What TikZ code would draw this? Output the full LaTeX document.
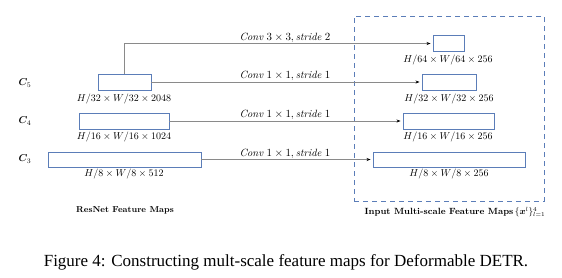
\documentclass[tikz,border=0pt]{standalone}
\usepackage{fontspec}
\usepackage{amsmath,bm}
\newfontfamily\capfont{Liberation Serif}
\usetikzlibrary{arrows.meta}
\definecolor{boxblue}{HTML}{5B7DB8}
\definecolor{lin}{HTML}{8A8A8A}
\begin{document}
\begin{tikzpicture}[x=1pt,y=-1pt,
  fmap/.style={draw=boxblue,line width=0.9pt,minimum height=16pt,inner sep=0pt},
  dimlab/.style={font=\fontsize{10}{11}\selectfont,inner sep=0pt},
  convlab/.style={font=\fontsize{10.5}{11}\selectfont,inner sep=0pt,anchor=base},
  clab/.style={font=\fontsize{10}{11}\selectfont,inner sep=0pt},
  conn/.style={draw=lin,line width=0.6pt,-{Stealth[length=4pt,width=3pt,color=black]},shorten >=2pt}]
\useasboundingbox (0,0) rectangle (562,277);
% ResNet maps
\node[fmap,minimum width=53pt,minimum height=16pt] (c5) at (124.5,82) {};
\node[fmap,minimum width=90pt,minimum height=16pt] (c4) at (124,121) {};
\node[fmap,minimum width=153pt,minimum height=15pt] (c3) at (124.5,159.5) {};
\node[dimlab] (c5d) at (124,98.5) {$H/32\times W/32\times 2048$};
\node[dimlab] (c4d) at (124,136.5) {$H/16\times W/16\times 1024$};
\node[dimlab] (c3d) at (124,174) {$H/8\times W/8\times 512$};
\node[clab] (c5l) at (25,83) {$\bm{C}_5$};
\node[clab] (c4l) at (25,121) {$\bm{C}_4$};
\node[clab] (c3l) at (25,159) {$\bm{C}_3$};
% Output maps
\node[fmap,minimum width=31pt,minimum height=16pt] (o6) at (448.5,43.5) {};
\node[fmap,minimum width=54pt,minimum height=16pt] (o5) at (449,82) {};
\node[fmap,minimum width=91pt,minimum height=16pt] (o4) at (448.5,121) {};
\node[fmap,minimum width=152pt,minimum height=15pt] (o3) at (449,159.5) {};
\node[dimlab] (o6d) at (448,59.5) {$H/64\times W/64\times 256$};
\node[dimlab] (o5d) at (449,98.5) {$H/32\times W/32\times 256$};
\node[dimlab] (o4d) at (448,136.5) {$H/16\times W/16\times 256$};
\node[dimlab] (o3d) at (449,174) {$H/8\times W/8\times 256$};
% dashed frame
\node[draw=boxblue,line width=1pt,dash pattern=on 5pt off 4pt,minimum width=190pt,minimum height=185pt,inner sep=0pt] (frame) at (449,108.5) {};
% connectors
\draw[conn] (c5.north) |- (o6.west);
\draw[conn] (c5.east) -- (o5.west);
\draw[conn] (c4.east) -- (o4.west);
\draw[conn] (c3.east) -- (o3.west);
\node[convlab] (l6) at (285,40) {$\mathit{Conv}\ 3\times 3, \mathit{stride}\ 2$};
\node[convlab] (l5) at (285,78) {$\mathit{Conv}\ 1\times 1, \mathit{stride}\ 1$};
\node[convlab] (l4) at (285,117) {$\mathit{Conv}\ 1\times 1, \mathit{stride}\ 1$};
\node[convlab] (l3) at (285,156) {$\mathit{Conv}\ 1\times 1, \mathit{stride}\ 1$};
% titles
\node[font=\fontsize{8.6}{10}\selectfont\bfseries,inner sep=0pt] (t1) at (125,210) {ResNet Feature Maps};
\node[font=\fontsize{9}{10}\selectfont\bfseries,inner sep=0pt] (t2) at (455,212) {Input Multi-scale Feature Maps\,$\{\bm{x}^l\}_{l=1}^4$};
\node[font=\capfont\fontsize{17}{19}\selectfont,inner sep=0pt] (cap) at (286,262) {Figure 4: Constructing mult-scale feature maps for Deformable DETR.};
\end{tikzpicture}
\end{document}
